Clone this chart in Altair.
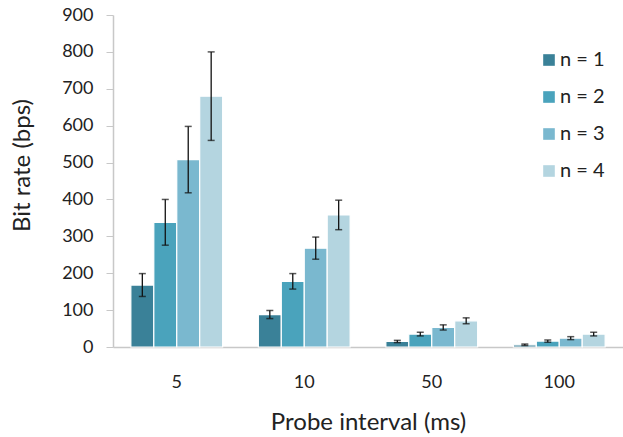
import altair as alt
import pandas as pd

intervals = ["5", "10", "50", "100"]
series = ["n = 1", "n = 2", "n = 3", "n = 4"]
values = {
    "n = 1": [168, 88, 15, 6],
    "n = 2": [338, 178, 35, 16],
    "n = 3": [508, 268, 53, 24],
    "n = 4": [680, 358, 71, 35],
}
errors = {
    "n = 1": [31, 11, 3, 2],
    "n = 2": [62, 21, 5, 3],
    "n = 3": [90, 30, 7, 4],
    "n = 4": [120, 40, 8, 5],
}
y_ticks = [0, 100, 200, 300, 400, 500, 600, 700, 800, 900]
colors = ["#3a8198", "#4aa3bc", "#7ab8cf", "#b4d5e0"]

rows = []
for s in series:
    for i, iv in enumerate(intervals):
        v = values[s][i]
        e = errors[s][i]
        rows.append({"interval": iv, "n": s, "value": v, "lo": v - e, "hi": v + e})
df = pd.DataFrame(rows)

FONT = "Lato"

x = alt.X("interval:N", sort=intervals,
          scale=alt.Scale(paddingInner=0.28, paddingOuter=0.14),
          axis=alt.Axis(title="Probe interval (ms)", labelAngle=0, ticks=False,
                        labelFontSize=18, labelPadding=26, labelColor="#222",
                        domainColor="#c8c8c8", domainWidth=1.5,
                        titleFontSize=24, titleFontWeight="normal", titleColor="#222",
                        titleX=255, titleY=75, titleBaseline="middle"))
xo = alt.XOffset("n:N", sort=series, scale=alt.Scale(paddingInner=0.0, paddingOuter=0.0))
yscale = alt.Scale(domain=[0, 900], nice=False)
yaxis = alt.Axis(title="Bit rate (bps)", values=y_ticks, labelOverlap=False,
                 grid=False, tickSize=7, tickColor="#c8c8c8",
                 domainColor="#c8c8c8", domainWidth=1.5,
                 labelFontSize=18, labelPadding=13, labelColor="#222",
                 titleFontSize=24, titleFontWeight="normal", titleColor="#222",
                 titleX=-91, titleY=150, titleAngle=-90,
                 titleAlign="center", titleBaseline="middle")

bars = alt.Chart(df).mark_bar(stroke="#ffffff", strokeWidth=1.2).encode(
    x=x,
    xOffset=xo,
    y=alt.Y("value:Q", scale=yscale, axis=yaxis),
    color=alt.Color("n:N", sort=series,
                    scale=alt.Scale(domain=series, range=colors),
                    legend=alt.Legend(title=None, orient="none", legendX=426, legendY=35,
                                      symbolType="square", symbolSize=135,
                                      symbolStrokeWidth=0, labelFontSize=20,
                                      labelColor="#222", labelOffset=1,
                                      rowPadding=17)),
)

rules = alt.Chart(df).mark_rule(color="#111", strokeWidth=1.3).encode(
    x=x, xOffset=xo,
    y=alt.Y("lo:Q", scale=yscale, axis=yaxis), y2="hi:Q",
)
caps_hi = alt.Chart(df).mark_tick(color="#111", size=7, thickness=1.5).encode(
    x=x, xOffset=xo, y=alt.Y("hi:Q", scale=yscale, axis=yaxis),
)
caps_lo = alt.Chart(df).mark_tick(color="#111", size=7, thickness=1.5).encode(
    x=x, xOffset=xo, y=alt.Y("lo:Q", scale=yscale, axis=yaxis),
)

chart = alt.layer(bars, rules, caps_hi, caps_lo).properties(
    width=510, height=332,
    padding={"left": 113, "top": 15, "right": 0, "bottom": 90},
    autosize=alt.AutoSizeParams(type="none"),
).configure(font=FONT).configure_view(stroke=None)

chart.save("out.html", embed_options={"renderer": "svg", "actions": False})
